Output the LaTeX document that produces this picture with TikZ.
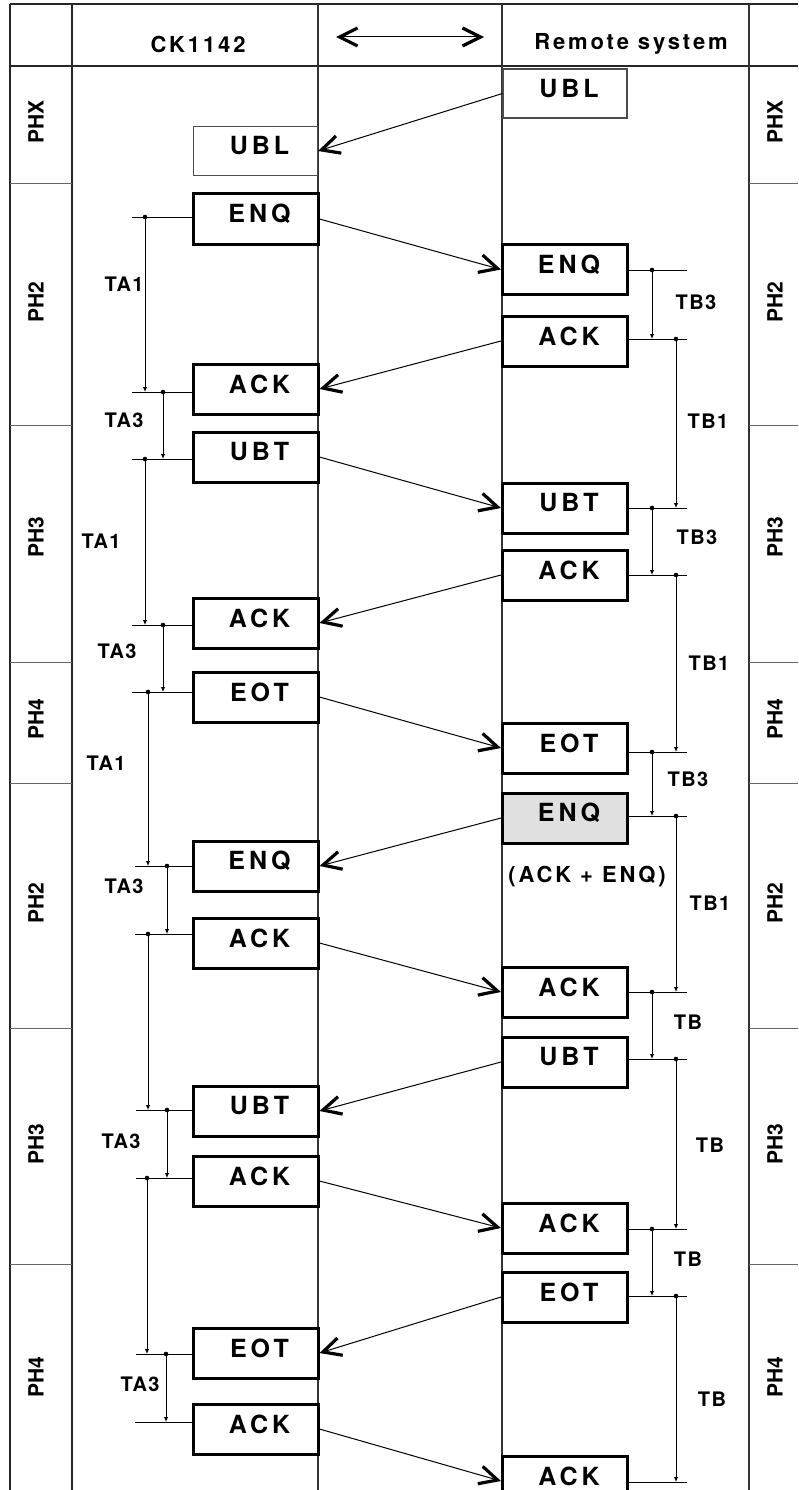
\documentclass[tikz,border=0pt]{standalone}
\usepackage{fontspec}
\setmainfont{Liberation Sans}
\newfontfamily\boxfont{texgyreheros-bold.otf}[LetterSpace=16]
\newfontfamily\hdfont{texgyreheros-bold.otf}[LetterSpace=13]
\newfontfamily\tmfont{texgyreheros-bold.otf}[LetterSpace=7]
\newfontfamily\phfont{texgyreheros-bold.otf}
\usetikzlibrary{arrows.meta}
\newcommand\Msg[5]{%
  \node[#1] (#2) at (#3,#4) {};
  \node[boxtext] (#2t) at ([xshift=4pt,yshift=5pt]#2.center) {#5};}
\begin{document}
\begin{tikzpicture}[x=1pt,y=-1pt,
  grid/.style={line width=1.5pt,black!85},
  lane/.style={line width=1.2pt,black!80},
  sep/.style={line width=1pt,black!60},
  msgbox/.style={draw,fill=white,line width=3pt,minimum width=125pt,minimum height=50pt,inner sep=0pt},
  thinbox/.style={draw=black!70,fill=white,line width=1.1pt,minimum width=124pt,minimum height=49pt,inner sep=0pt},
  graybox/.style={msgbox,fill=black!12},
  boxtext/.style={font={\boxfont\fontsize{25pt}{30pt}\selectfont},inner sep=0pt},
  hdtext/.style={font={\hdfont\fontsize{22pt}{26pt}\selectfont},inner sep=0pt},
  phtext/.style={font={\phfont\fontsize{21pt}{24pt}\selectfont},rotate=90,inner sep=0pt},
  tmtext/.style={font={\tmfont\fontsize{20pt}{24pt}\selectfont},inner sep=0pt},
  barb/.tip={Straight Barb[length=18pt,width=18pt,line width=3.2pt]},
  msgarrow/.style={line width=1pt,-barb},
  tick/.style={line width=1pt},
  timarrow/.style={line width=1pt,-{Latex[length=5pt,width=4.5pt]}},
  dotc/.style={fill=black}
]
\useasboundingbox (0,0) rectangle (798,1490);
\clip (0,0) rectangle (798,1490);

% table frame
\draw[grid] (10,4) -- (798,4);
\draw[grid] (10,66) -- (798,66);
\draw[grid] (10,4) -- (10,1490);
\draw[grid] (72,4) -- (72,1490);
\draw[lane] (318,4) -- (318,1490);
\draw[lane] (502,4) -- (502,1490);
\draw[lane] (749,4) -- (749,1490);

% phase separators
\foreach \y in {184,425,662,783,1028,1264} {
  \draw[sep] (10,\y) -- (72,\y);
  \draw[sep] (749,\y) -- (798,\y);
}

% phase labels
\foreach \n/\t/\y in {a/PHX/122,b/PH2/302,c/PH3/537,d/PH4/719,e/PH2/903,f/PH3/1144,g/PH4/1377} {
  \node[phtext] (phl\n) at (36,\y) {\t};
  \node[phtext] (phr\n) at (775,\y) {\t};
}

% header
\node[hdtext] (hCK) at (198,44) {CK1142};
\node[hdtext] (hRS) at (631,44) {Remote system};
\coordinate (hL) at (336,37);
\coordinate (hR) at (484,37);
\draw[line width=1pt,barb-barb] (hL) -- (hR);

% left boxes (CK1142)
\Msg{thinbox}{lUBL}{255.5}{151}{UBL}
\Msg{msgbox}{lENQa}{255.5}{219}{ENQ}
\Msg{msgbox}{lACKa}{255.5}{389}{ACK}
\Msg{msgbox}{lUBTa}{255.5}{457}{UBT}
\Msg{msgbox}{lACKb}{255.5}{623}{ACK}
\Msg{msgbox}{lEOTa}{255.5}{697}{EOT}
\Msg{msgbox}{lENQb}{255.5}{866}{ENQ}
\Msg{msgbox}{lACKc}{255.5}{943}{ACK}
\Msg{msgbox}{lUBTb}{255.5}{1111}{UBT}
\Msg{msgbox}{lACKd}{255.5}{1181}{ACK}
\Msg{msgbox}{lEOTb}{255.5}{1353}{EOT}
\Msg{msgbox}{lACKe}{255.5}{1429}{ACK}

% right boxes (remote system)
\Msg{thinbox}{rUBL}{565}{93.5}{UBL}
\Msg{msgbox}{rENQa}{565}{269.5}{ENQ}
\Msg{msgbox}{rACKa}{565}{341}{ACK}
\Msg{msgbox}{rUBTa}{565}{508}{UBT}
\Msg{msgbox}{rACKb}{565}{575}{ACK}
\Msg{msgbox}{rEOTa}{565}{748}{EOT}
\Msg{graybox}{rENQb}{565}{818}{ENQ}
\Msg{msgbox}{rACKc}{565}{992}{ACK}
\Msg{msgbox}{rUBTb}{565}{1062}{UBT}
\Msg{msgbox}{rACKd}{565}{1228}{ACK}
\Msg{msgbox}{rEOTb}{565}{1297}{EOT}
\Msg{msgbox}{rACKe}{565}{1481}{ACK}

\node[hdtext] (combo) at (587,877) {(ACK + ENQ)};

% messages
\draw[msgarrow] (rUBL.west) -- (lUBL.east);
\draw[msgarrow] (lENQa.east) -- (rENQa.west);
\draw[msgarrow] (rACKa.west) -- (lACKa.east);
\draw[msgarrow] (lUBTa.east) -- (rUBTa.west);
\draw[msgarrow] (rACKb.west) -- (lACKb.east);
\draw[msgarrow] (lEOTa.east) -- (rEOTa.west);
\draw[msgarrow] (rENQb.west) -- (lENQb.east);
\draw[msgarrow] (lACKc.east) -- (rACKc.west);
\draw[msgarrow] (rUBTb.west) -- (lUBTb.east);
\draw[msgarrow] (lACKd.east) -- (rACKd.west);
\draw[msgarrow] (rEOTb.west) -- (lEOTb.east);
\draw[msgarrow] (lACKe.east) -- (rACKe.west);

% left timing ticks
\foreach \b/\y/\xs in {lENQa/217/132,lACKa/392/132,lUBTa/459/132,lACKb/625/132,lEOTa/692/132,lENQb/866/135,lACKc/934/135,lUBTb/1110/136,lACKd/1178/136,lEOTb/1354/136,lACKe/1422/135} {
  \draw[tick] (\b.west |- 0,\y) -- (\xs,\y);
}
% right timing ticks
\foreach \b/\y in {rENQa/270,rACKa/339,rUBTa/508,rACKb/575,rEOTa/752,rENQb/816,rACKc/992,rUBTb/1059,rACKd/1229,rEOTb/1296,rACKe/1482} {
  \draw[tick] (\b.east |- 0,\y) -- (687,\y);
}

% timing intervals
\foreach \x/\ya/\yb in {145/217/392,163/392/459,145/459/625,163/625/692,148/692/866,167/866/934,148/934/1110,167/1110/1178,147/1178/1354,166/1354/1422,
  652/270/339,676/339/508,652/508/575,676/575/752,652/752/816,676/816/992,652/992/1059,676/1059/1229,652/1229/1296,676/1296/1482} {
  \fill[dotc] (\x,\ya) circle (2.3pt);
  \draw[timarrow] (\x,\ya) -- (\x,\yb);
}

% timing labels
\node[tmtext] (ta1) at (124,284) {TA1};
\node[tmtext] (ta2) at (124,420) {TA3};
\node[tmtext] (ta3) at (101,541) {TA1};
\node[tmtext] (ta4) at (117,651) {TA3};
\node[tmtext] (ta5) at (106,763) {TA1};
\node[tmtext] (ta6) at (124,886) {TA3};
\node[tmtext] (ta7) at (121,1141) {TA3};
\node[tmtext] (ta8) at (140,1384) {TA3};

\node[tmtext] (tb1) at (696,302) {TB3};
\node[tmtext] (tb2) at (708,421) {TB1};
\node[tmtext] (tb3) at (697,537) {TB3};
\node[tmtext] (tb4) at (709,663) {TB1};
\node[tmtext] (tb5) at (688,779) {TB3};
\node[tmtext] (tb6) at (710,903) {TB1};
\node[tmtext] (tb7) at (688,1022) {TB};
\node[tmtext] (tb8) at (710,1145) {TB};
\node[tmtext] (tb9) at (688,1259) {TB};
\node[tmtext] (tb10) at (712,1399) {TB};
\end{tikzpicture}
\end{document}
